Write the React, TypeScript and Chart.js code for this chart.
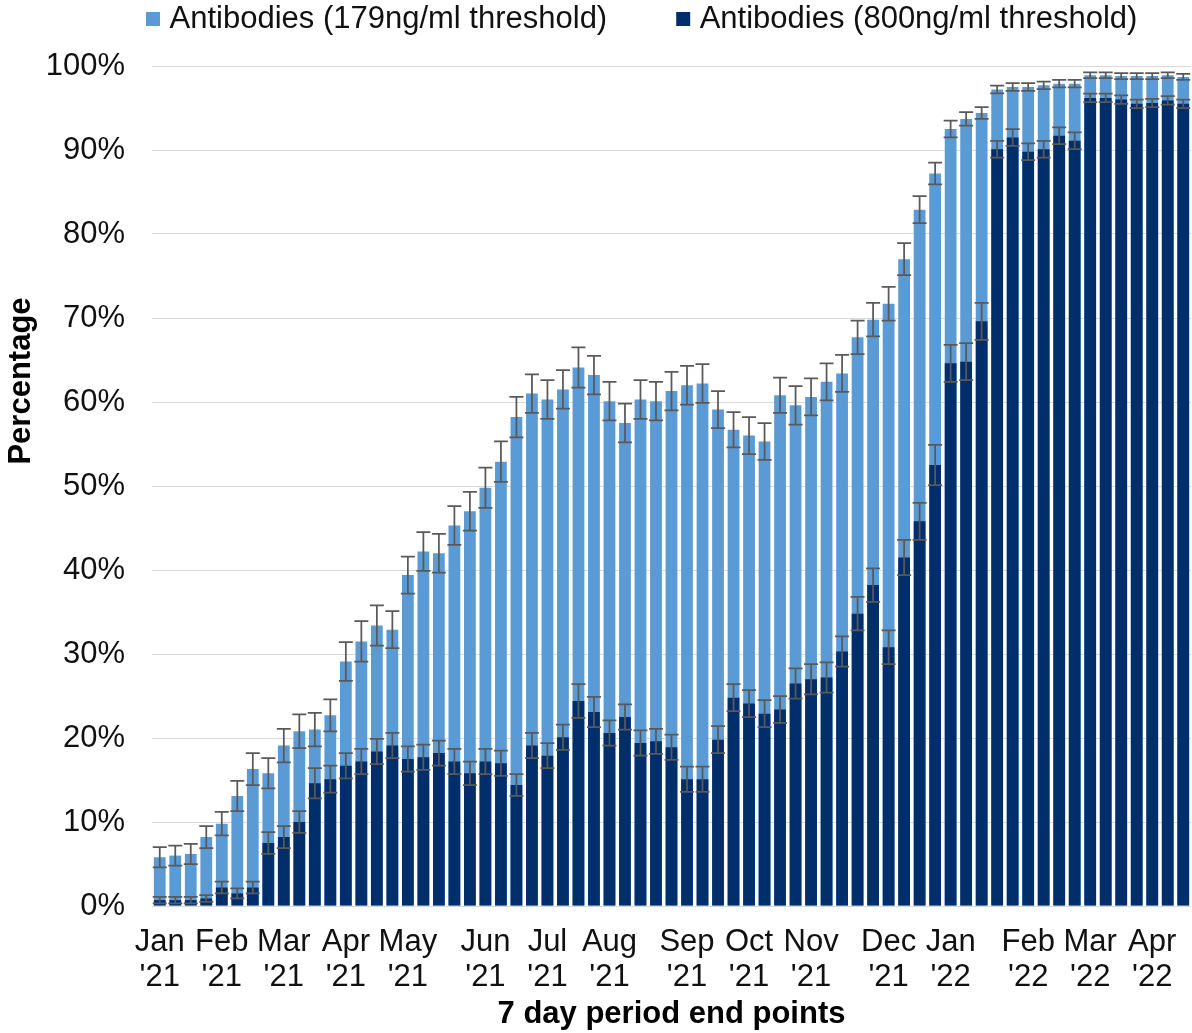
import { useEffect, useRef } from 'react';
import { Chart, registerables } from 'chart.js';

Chart.register(...registerables);

const FONT = '"Liberation Sans", Arial, Helvetica, sans-serif';

// 7-day period end points (tick label shown on the first period of each month)
const weekLabels: string[] = [
  "Jan '21", '', '', '',
  "Feb '21", '', '', '',
  "Mar '21", '', '', '',
  "Apr '21", '', '', '',
  "May '21", '', '', '', '',
  "Jun '21", '', '', '',
  "Jul '21", '', '', '',
  "Aug '21", '', '', '', '',
  "Sep '21", '', '', '',
  "Oct '21", '', '', '',
  "Nov '21", '', '', '', '',
  "Dec '21", '', '', '',
  "Jan '22", '', '', '', '',
  "Feb '22", '', '', '',
  "Mar '22", '', '', '',
  "Apr '22", '', '',
];

const seriesNames: string[] = [
  'Antibodies (179ng/ml threshold)',
  'Antibodies (800ng/ml threshold)',
];

// Percentage with antibodies at 179ng/ml
const pct179: number[] = [
  5.8, 6.0, 6.2, 8.2, 9.8, 13.1, 16.3, 15.8, 19.1, 20.8,
  21.0, 22.7, 29.1, 31.5, 33.4, 32.9, 39.4, 42.2, 42.0, 45.3,
  47.0, 49.8, 52.9, 58.2, 61.0, 60.3, 61.5, 64.1, 63.2, 60.1,
  57.5, 60.3, 60.1, 61.3, 62.0, 62.2, 59.1, 56.7, 56.0, 55.3,
  60.8, 59.6, 60.6, 62.4, 63.4, 67.7, 69.8, 71.7, 77.0, 82.9,
  87.2, 92.5, 93.7, 94.4, 97.2, 97.5, 97.5, 97.7, 97.9, 97.9,
  98.9, 98.9, 98.8, 98.8, 98.8, 98.9, 98.7,
];
const err179: number[] = [
  1.2, 1.2, 1.2, 1.3, 1.4, 1.8, 1.9, 1.8, 2.0, 2.0,
  2.0, 1.9, 2.3, 2.4, 2.4, 2.2, 2.2, 2.3, 2.3, 2.3,
  2.3, 2.4, 2.4, 2.4, 2.3, 2.3, 2.3, 2.4, 2.3, 2.3,
  2.3, 2.3, 2.3, 2.3, 2.3, 2.3, 2.2, 2.1, 2.2, 2.2,
  2.1, 2.3, 2.2, 2.2, 2.2, 2.0, 2.0, 2.0, 1.9, 1.6,
  1.3, 1.0, 0.8, 0.7, 0.45, 0.45, 0.45, 0.45, 0.45, 0.45,
  0.35, 0.35, 0.35, 0.35, 0.35, 0.35, 0.35,
];

// Percentage with antibodies at 800ng/ml
const pct800: number[] = [
  0.7, 0.7, 0.7, 0.9, 2.2, 1.5, 2.2, 7.5, 8.2, 10.0,
  14.6, 15.1, 16.7, 17.2, 18.4, 19.1, 17.5, 17.7, 18.2, 17.2,
  15.8, 17.2, 17.0, 14.4, 19.1, 17.9, 20.1, 24.4, 23.1, 20.6,
  22.5, 19.4, 19.6, 18.9, 15.1, 15.1, 19.8, 24.8, 24.1, 22.9,
  23.4, 26.5, 27.0, 27.2, 30.3, 34.8, 38.2, 30.8, 41.5, 45.8,
  52.5, 64.6, 64.8, 69.6, 90.1, 91.5, 89.8, 90.1, 91.7, 91.1,
  96.2, 96.2, 96.0, 95.5, 95.6, 95.9, 95.5,
];
const err800: number[] = [
  0.4, 0.4, 0.4, 0.4, 0.7, 0.6, 0.7, 1.3, 1.3, 1.3,
  1.8, 1.6, 1.5, 1.5, 1.5, 1.5, 1.5, 1.5, 1.5, 1.5,
  1.4, 1.5, 1.5, 1.3, 1.5, 1.5, 1.5, 2.0, 1.8, 1.5,
  1.5, 1.5, 1.5, 1.5, 1.5, 1.5, 1.6, 1.6, 1.6, 1.6,
  1.6, 1.8, 1.8, 1.8, 1.8, 2.0, 2.0, 2.0, 2.1, 2.2,
  2.4, 2.2, 2.2, 2.2, 1.0, 1.0, 1.0, 1.0, 1.0, 1.0,
  0.5, 0.5, 0.5, 0.5, 0.5, 0.5, 0.5,
];

const yTickValues: number[] = [0, 10, 20, 30, 40, 50, 60, 70, 80, 90, 100];
const yTitle = 'Percentage';
const xTitle = '7 day period end points';

const LEGEND_GAP = 75;

const errorBarPlugin = {
  id: 'errorBars',
  afterDatasetsDraw(chart: any) {
    const ctx = chart.ctx;
    const yScale = chart.scales.y;
    ctx.save();
    ctx.strokeStyle = '#595959';
    ctx.lineWidth = 1.75;
    chart.data.datasets.forEach((ds: any, di: number) => {
      const meta = chart.getDatasetMeta(di);
      if (meta.hidden) return;
      const errs: number[] = ds.errorBars || [];
      meta.data.forEach((el: any, i: number) => {
        const v = ds.data[i];
        const e = errs[i];
        if (v == null || e == null) return;
        const x = el.x;
        const top = yScale.getPixelForValue(v + e);
        const bot = yScale.getPixelForValue(v - e);
        const cap = 7;
        ctx.beginPath();
        ctx.moveTo(x, top);
        ctx.lineTo(x, bot);
        ctx.moveTo(x - cap, top);
        ctx.lineTo(x + cap, top);
        ctx.moveTo(x - cap, bot);
        ctx.lineTo(x + cap, bot);
        ctx.stroke();
      });
    });
    ctx.restore();
  },
};

const yTitlePlugin = {
  id: 'yTitleDraw',
  afterDraw(chart: any) {
    const { ctx, chartArea } = chart;
    const cy = chartArea.top + (chartArea.bottom - chartArea.top) * 0.375;
    ctx.save();
    ctx.translate(21, cy);
    ctx.rotate(-Math.PI / 2);
    ctx.font = `bold 31px ${FONT}`;
    ctx.fillStyle = '#000';
    ctx.textAlign = 'center';
    ctx.textBaseline = 'middle';
    ctx.fillText(yTitle, 0, 0);
    ctx.restore();
  },
};

const legendPlacementPlugin = {
  id: 'legendPlacement',
  beforeInit(chart: any) {
    const lg = chart.legend;
    if (!lg) return;
    const fit = lg.fit;
    lg.fit = function (this: any) {
      fit.call(this);
      this.height = 66;
    };
  },
  beforeDraw(chart: any) {
    const lg = chart.legend;
    if (!lg) return;
    lg.left = 152 - LEGEND_GAP;
    lg.right = 2400;
    lg.top = 3.5 - LEGEND_GAP;
  },
};

export default function App() {
  const canvasRef = useRef<HTMLCanvasElement>(null);

  useEffect(() => {
    const canvas = canvasRef.current;
    if (!canvas) return;
    Chart.defaults.font.family = FONT;
    const chart = new Chart(canvas, {
      type: 'bar',
      data: {
        labels: weekLabels,
        datasets: [
          {
            label: seriesNames[0],
            data: pct179,
            errorBars: err179,
            backgroundColor: '#5B9BD5',
            borderWidth: 0,
            grouped: false,
            order: 1,
            barPercentage: 0.76,
            categoryPercentage: 1,
          } as any,
          {
            label: seriesNames[1],
            data: pct800,
            errorBars: err800,
            backgroundColor: '#002E6B',
            borderWidth: 0,
            grouped: false,
            order: 0,
            barPercentage: 0.76,
            categoryPercentage: 1,
          } as any,
        ],
      },
      options: {
        responsive: false,
        devicePixelRatio: 1,
        animation: false,
        layout: { padding: { top: 0, left: 0, right: 1, bottom: 0 } },
        plugins: {
          tooltip: { enabled: false },
          legend: {
            display: true,
            position: 'top',
            align: 'start',
            labels: {
              font: { size: 31, family: FONT },
              color: '#111',
              usePointStyle: true,
              pointStyle: 'rect',
              boxWidth: 2,
              boxHeight: 14,
              padding: LEGEND_GAP,
              sort: (a: any, b: any) => a.datasetIndex - b.datasetIndex,
            },
          },
        },
        scales: {
          x: {
            grid: { display: false, drawTicks: false },
            border: { display: false },
            ticks: {
              autoSkip: false,
              maxRotation: 0,
              minRotation: 0,
              padding: 18,
              color: '#111',
              font: { size: 31, family: FONT, lineHeight: 1.16 },
              callback: (_v: any, i: number) => {
                const l = weekLabels[i];
                return l ? l.split(' ') : '';
              },
            },
            title: {
              display: true,
              text: xTitle,
              color: '#000',
              font: { size: 31, weight: 'bold', family: FONT },
              padding: { top: 0, bottom: 0 },
            },
            afterFit: (scale: any) => {
              scale.height = 127;
              scale.paddingRight = 0;
            },
          },
          y: {
            min: 0,
            max: 100,
            grid: { color: '#d9d9d9', lineWidth: 1, drawTicks: false },
            border: { display: false },
            afterBuildTicks: (scale: any) => {
              scale.ticks = yTickValues.map((v) => ({ value: v }));
            },
            ticks: {
              padding: 27,
              color: '#111',
              font: { size: 31, family: FONT },
              callback: (v: any) => `${v}%`,
            },
            title: { display: false },
            afterFit: (scale: any) => {
              scale.width = 152;
            },
          },
        },
      },
      plugins: [errorBarPlugin, yTitlePlugin, legendPlacementPlugin],
    } as any);
    return () => chart.destroy();
  }, []);

  return (
    <div style={{ position: 'absolute', left: 0, top: 0, width: 1192, height: 1033, background: '#fff' }}>
      <canvas ref={canvasRef} width={1192} height={1033} style={{ display: 'block', width: 1192, height: 1033 }} />
    </div>
  );
}
